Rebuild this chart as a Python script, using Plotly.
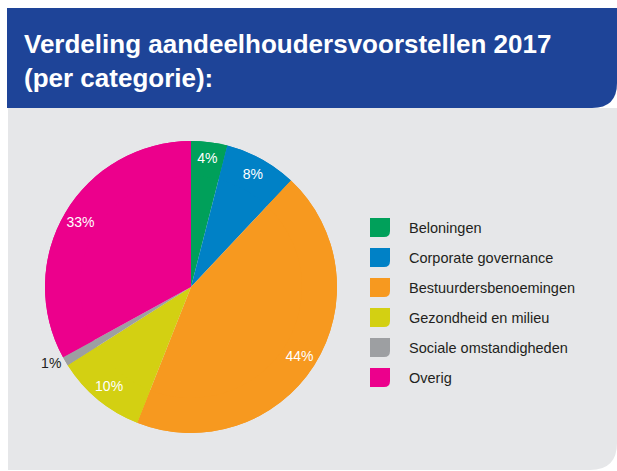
import plotly.graph_objects as go

W, H = 617, 471

categories = [
    "Beloningen",
    "Corporate governance",
    "Bestuurdersbenoemingen",
    "Gezondheid en milieu",
    "Sociale omstandigheden",
    "Overig",
]
shares = [4, 8, 44, 10, 1, 33]
colors = ["#00a05a", "#0081c6", "#f7991f", "#d3d012", "#9d9fa2", "#ec008c"]
label_colors = ["white", "white", "white", "white", "#231f20", "white"]
label_pos = ["inside", "inside", "inside", "inside", "outside", "inside"]

title_lines = ["Verdeling aandeelhoudersvoorstellen 2017", "(per categorie):"]

HEADER_BLUE = "#1e4498"
PANEL_GREY = "#e6e7e9"
BODY_FONT = "Liberation Sans, Arial, sans-serif"


def px(x, y):
    # pixel -> paper coordinates
    return x / W, 1 - y / H


def rounded_br(x0, y0, x1, y1, r):
    # rectangle with rounded bottom-right corner, in paper units
    pts = [px(x0, y0), px(x1, y0), px(x1, y1 - r), px(x1, y1), px(x1 - r, y1), px(x0, y1)]
    (a, b), (c, d), (e, f), (g, h), (i, j), (k, l) = pts
    return f"M{a},{b} L{c},{d} L{e},{f} Q{g},{h} {i},{j} L{k},{l} Z"


cx, cy, R = 191, 287, 146
dx0, dy0 = px(cx - R, cy + R)
dx1, dy1 = px(cx + R, cy - R)
dom = dict(x=[dx0, dx1], y=[dy0, dy1])

fig = go.Figure()
# solid pie underneath
fig.add_trace(go.Pie(
    labels=categories, values=shares, sort=False, direction="clockwise",
    marker=dict(colors=colors, line=dict(width=0)),
    textinfo="none", hoverinfo="label+percent", showlegend=False, domain=dom,
))
# ring on top only used to place the percentage labels near the rim
fig.add_trace(go.Pie(
    labels=categories, values=shares, sort=False, direction="clockwise", hole=0.76,
    marker=dict(colors=colors, line=dict(width=0)),
    texttemplate="%{value}%", textposition=label_pos, insidetextorientation="horizontal",
    textfont=dict(family=BODY_FONT, size=14, color=label_colors),
    hoverinfo="skip", showlegend=False, domain=dom,
))

shapes = [
    dict(type="path", path=rounded_br(7, 8, W, 108, 25), fillcolor=HEADER_BLUE,
         line=dict(width=0), xref="paper", yref="paper", layer="below"),
    dict(type="path", path=rounded_br(8, 108, W, 470, 27), fillcolor=PANEL_GREY,
         line=dict(width=0), xref="paper", yref="paper", layer="below"),
]
annotations = [
    dict(text="<br>".join(title_lines), x=22 / W, y=1 - 27 / H, xref="paper", yref="paper",
         xanchor="left", yanchor="top", align="left", showarrow=False,
         font=dict(family=BODY_FONT, size=26, color="white", weight="bold")),
]

# custom legend with rounded swatches
for i, (name, col) in enumerate(zip(categories, colors)):
    top = 218 + 30 * i
    shapes.append(dict(type="path", path=rounded_br(370, top, 390, top + 19, 6),
                       fillcolor=col, line=dict(width=0), xref="paper", yref="paper"))
    annotations.append(dict(text=name, x=407 / W, y=1 - (top + 9.5) / H, xref="paper", yref="paper",
                            xanchor="left", yanchor="middle", showarrow=False,
                            font=dict(family=BODY_FONT, size=14.5, color="#231f20")))

fig.update_layout(
    width=W, height=H, margin=dict(l=0, r=0, t=0, b=0),
    paper_bgcolor="white", plot_bgcolor="white",
    shapes=shapes, annotations=annotations,
    uniformtext=dict(minsize=14, mode="show"),
)

fig.write_html("out.html", config={"displayModeBar": False},
               post_script="document.body.style.margin='0';")
